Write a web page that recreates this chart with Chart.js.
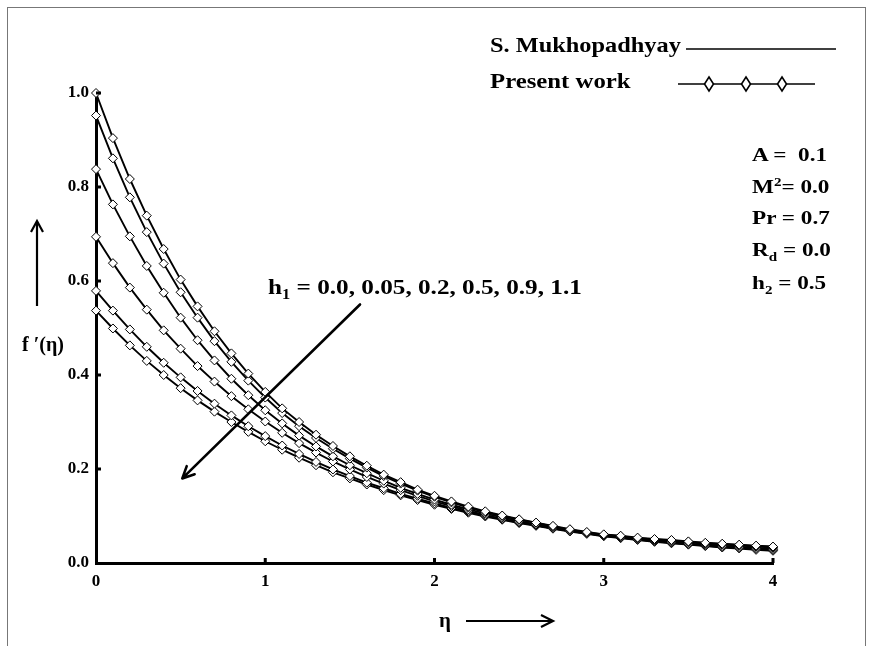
<!DOCTYPE html>
<html>
<head>
<meta charset="utf-8">
<script src="https://cdn.jsdelivr.net/npm/chart.js@4.4.1/dist/chart.umd.min.js"></script>
<style>
  body { margin: 0; background: #fff; }
  #wrap { position: relative; width: 876px; height: 646px; overflow: hidden; }
  #chart { position: absolute; left: 0; top: 0; }
  .frame { position: absolute; left: 7px; top: 7px; width: 859px; height: 660px; border: 1px solid #777; box-sizing: border-box; }
  .txt { position: absolute; font-family: "Liberation Serif", "Times New Roman", serif; font-weight: bold; color: #000; white-space: nowrap; line-height: 1; transform-origin: 0 0; }
  .txt sub, .txt sup { font-size: 65%; line-height: 0; }
  svg.over { position: absolute; left: 0; top: 0; pointer-events: none; }
</style>
</head>
<body>
<div id="wrap">
  <div class="frame"></div>
  <canvas id="chart" width="876" height="646"></canvas>
  <svg class="over" width="876" height="646">
    <!-- legend samples -->
    <line x1="686" y1="49" x2="836" y2="49" stroke="#000" stroke-width="1.3"/>
    <line x1="678" y1="84" x2="815" y2="84" stroke="#000" stroke-width="1.3"/>
    <g fill="#fff" stroke="#000" stroke-width="1.6">
      <polygon points="709,77 713.5,84 709,91 704.5,84"/>
      <polygon points="746,77 750.5,84 746,91 741.5,84"/>
      <polygon points="782,77 786.5,84 782,91 777.5,84"/>
    </g>
    <!-- axis title arrows -->
    <g stroke="#000" stroke-width="2.2" fill="none">
      <line x1="37" y1="306" x2="37" y2="222"/>
      <polyline points="31,232 37,221 43,232"/>
      <line x1="466" y1="621" x2="552" y2="621"/>
      <polyline points="541,615 553,621 541,627"/>
    </g>
  </svg>
  <div class="txt" style="left:490px; top:35px; font-size:21px; transform:scaleX(1.16);">S. Mukhopadhyay</div>
  <div class="txt" style="left:490px; top:71px; font-size:21px; transform:scaleX(1.18);">Present work</div>
  <div class="txt" style="left:752px; top:145px; font-size:19px; transform:scaleX(1.22);">A =&nbsp; 0.1</div>
  <div class="txt" style="left:752px; top:177px; font-size:19px; transform:scaleX(1.22);">M<sup>2</sup>= 0.0</div>
  <div class="txt" style="left:752px; top:208px; font-size:19px; transform:scaleX(1.22);">Pr = 0.7</div>
  <div class="txt" style="left:752px; top:240px; font-size:19px; transform:scaleX(1.22);">R<sub>d</sub> = 0.0</div>
  <div class="txt" style="left:752px; top:273px; font-size:19px; transform:scaleX(1.22);">h<sub>2</sub> = 0.5</div>
  <div class="txt" style="left:268px; top:277px; font-size:21px; transform:scaleX(1.2);">h<sub>1</sub> = 0.0, 0.05, 0.2, 0.5, 0.9, 1.1</div>
  <div class="txt" style="left:22px; top:334px; font-size:20px;">f ′(η)</div>
  <div class="txt" style="left:439px; top:610px; font-size:21px;">η</div>
</div>
<script>
// eta grid, every 0.1 from 0 to 4
const etaValues = [
  0.0, 0.1, 0.2, 0.3, 0.4, 0.5, 0.6, 0.7, 0.8, 0.9,
  1.0, 1.1, 1.2, 1.3, 1.4, 1.5, 1.6, 1.7, 1.8, 1.9,
  2.0, 2.1, 2.2, 2.3, 2.4, 2.5, 2.6, 2.7, 2.8, 2.9,
  3.0, 3.1, 3.2, 3.3, 3.4, 3.5, 3.6, 3.7, 3.8, 3.9, 4.0
];

const h1Labels = ['h1 = 0.0', 'h1 = 0.05', 'h1 = 0.2', 'h1 = 0.5', 'h1 = 0.9', 'h1 = 1.1'];

const fp_h1_000 = [
  1.000, 0.904, 0.817, 0.739, 0.668, 0.603, 0.546, 0.493, 0.446, 0.403,
  0.364, 0.329, 0.300, 0.273, 0.249, 0.227, 0.207, 0.188, 0.172, 0.156,
  0.143, 0.131, 0.120, 0.110, 0.101, 0.093, 0.086, 0.079, 0.072, 0.066,
  0.061, 0.058, 0.054, 0.051, 0.049, 0.046, 0.043, 0.041, 0.039, 0.037, 0.035
];
const fp_h1_005 = [
  0.952, 0.861, 0.778, 0.704, 0.637, 0.576, 0.522, 0.472, 0.428, 0.388,
  0.352, 0.319, 0.291, 0.266, 0.243, 0.222, 0.203, 0.185, 0.169, 0.154,
  0.141, 0.129, 0.118, 0.108, 0.100, 0.092, 0.085, 0.078, 0.071, 0.065,
  0.060, 0.057, 0.053, 0.050, 0.048, 0.045, 0.042, 0.040, 0.038, 0.036, 0.034
];
const fp_h1_020 = [
  0.838, 0.763, 0.695, 0.632, 0.575, 0.522, 0.474, 0.431, 0.392, 0.357,
  0.325, 0.297, 0.271, 0.248, 0.227, 0.208, 0.191, 0.175, 0.160, 0.147,
  0.135, 0.124, 0.114, 0.105, 0.097, 0.089, 0.082, 0.076, 0.070, 0.064,
  0.059, 0.055, 0.052, 0.049, 0.046, 0.044, 0.041, 0.039, 0.037, 0.035, 0.033
];
const fp_h1_050 = [
  0.694, 0.638, 0.586, 0.539, 0.495, 0.456, 0.419, 0.386, 0.355, 0.327,
  0.301, 0.277, 0.255, 0.235, 0.216, 0.199, 0.183, 0.169, 0.155, 0.143,
  0.131, 0.121, 0.111, 0.102, 0.094, 0.087, 0.080, 0.074, 0.068, 0.063,
  0.058, 0.054, 0.050, 0.047, 0.044, 0.041, 0.039, 0.036, 0.034, 0.032, 0.030
];
const fp_h1_090 = [
  0.579, 0.537, 0.497, 0.460, 0.426, 0.395, 0.366, 0.339, 0.314, 0.291,
  0.270, 0.250, 0.232, 0.215, 0.199, 0.185, 0.171, 0.159, 0.147, 0.137,
  0.127, 0.117, 0.109, 0.101, 0.093, 0.086, 0.080, 0.074, 0.068, 0.063,
  0.058, 0.054, 0.050, 0.046, 0.043, 0.040, 0.037, 0.034, 0.032, 0.030, 0.028
];
const fp_h1_110 = [
  0.537, 0.499, 0.463, 0.430, 0.400, 0.372, 0.346, 0.322, 0.300, 0.279,
  0.259, 0.241, 0.224, 0.208, 0.193, 0.180, 0.167, 0.155, 0.144, 0.134,
  0.124, 0.115, 0.107, 0.099, 0.092, 0.085, 0.079, 0.073, 0.067, 0.062,
  0.057, 0.053, 0.049, 0.045, 0.042, 0.039, 0.036, 0.033, 0.031, 0.028, 0.026
];

const yTicks = [0.0, 0.2, 0.4, 0.6, 0.8, 1.0];
const xTicks = [0, 1, 2, 3, 4];

// arrow annotation (data coords): tail -> head
const arrowFrom = { x: 1.56, y: 0.55 };
const arrowTo = { x: 0.51, y: 0.18 };

const series = [fp_h1_000, fp_h1_005, fp_h1_020, fp_h1_050, fp_h1_090, fp_h1_110];

const datasets = series.map((vals, i) => ({
    label: h1Labels[i],
    data: vals.map((v, k) => ({ x: etaValues[k], y: v })),
    borderColor: '#000',
    borderWidth: 1.9,
    pointStyle: 'rectRot',
    pointRadius: 4.5,
    pointBackgroundColor: '#fff',
    pointBorderColor: '#000',
    pointBorderWidth: 1,
    tension: 0,
    clip: false
}));

// inward tick marks + the h1 arrow
const extras = {
    id: 'extras',
    afterDraw(chart) {
        const ctx = chart.ctx;
        const xs = chart.scales.x, ys = chart.scales.y;
        const area = chart.chartArea;
        ctx.save();
        ctx.strokeStyle = '#000';
        ctx.lineWidth = 3;
        ctx.beginPath();
        yTicks.forEach(v => {
            if (v === 0) return;
            const y = ys.getPixelForValue(v);
            ctx.moveTo(area.left, y);
            ctx.lineTo(area.left + 5, y);
        });
        xTicks.forEach(v => {
            if (v === 0) return;
            const x = xs.getPixelForValue(v);
            ctx.moveTo(x, area.bottom);
            ctx.lineTo(x, area.bottom - 5);
        });
        ctx.stroke();

        // arrow
        const x1 = xs.getPixelForValue(arrowFrom.x), y1 = ys.getPixelForValue(arrowFrom.y);
        const x2 = xs.getPixelForValue(arrowTo.x), y2 = ys.getPixelForValue(arrowTo.y);
        const ang = Math.atan2(y2 - y1, x2 - x1);
        ctx.lineWidth = 2.6;
        ctx.lineCap = 'round';
        ctx.beginPath();
        ctx.moveTo(x1, y1);
        ctx.lineTo(x2, y2);
        ctx.moveTo(x2, y2);
        ctx.lineTo(x2 - 13 * Math.cos(ang - 0.45), y2 - 13 * Math.sin(ang - 0.45));
        ctx.moveTo(x2, y2);
        ctx.lineTo(x2 - 13 * Math.cos(ang + 0.45), y2 - 13 * Math.sin(ang + 0.45));
        ctx.stroke();
        ctx.restore();
    }
};

const tickFont = { family: '"Liberation Serif", "Times New Roman", serif', size: 17, weight: 'bold' };

new Chart(document.getElementById('chart').getContext('2d'), {
    type: 'line',
    data: { datasets: datasets },
    options: {
        responsive: false,
        animation: false,
        events: [],
        layout: { padding: { left: 0, right: 103, top: 93, bottom: 0 } },
        plugins: { legend: { display: false }, tooltip: { enabled: false } },
        scales: {
            x: {
                type: 'linear',
                min: 0, max: 4,
                afterFit: s => { s.height = 83; },
                afterBuildTicks: s => { s.ticks = xTicks.map(v => ({ value: v })); },
                grid: { display: true, drawOnChartArea: false, drawTicks: false },
                border: { display: true, color: '#000', width: 3 },
                ticks: { color: '#000', font: tickFont, padding: 8, callback: v => String(v) }
            },
            y: {
                type: 'linear',
                min: 0, max: 1,
                afterFit: s => { s.width = 96; },
                afterBuildTicks: s => { s.ticks = yTicks.map(v => ({ value: v })); },
                grid: { display: true, drawOnChartArea: false, drawTicks: false },
                border: { display: true, color: '#000', width: 3 },
                ticks: { color: '#000', font: tickFont, padding: 7, callback: v => Number(v).toFixed(1) }
            }
        }
    },
    plugins: [extras]
});
</script>
</body>
</html>
